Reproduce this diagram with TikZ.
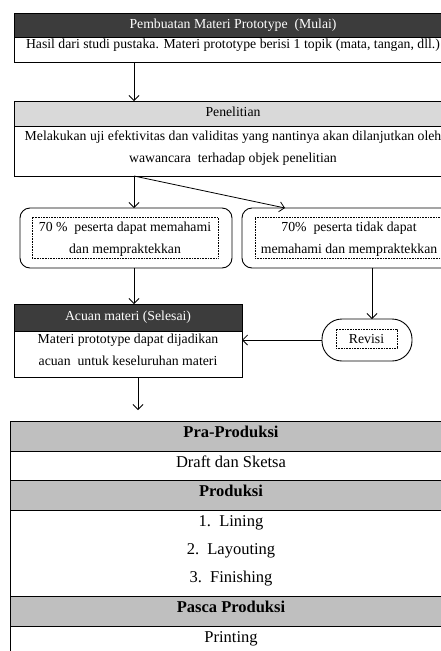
\documentclass[tikz,border=0pt]{standalone}
\usepackage{fontspec}
\setmainfont{Liberation Serif}
\usetikzlibrary{positioning,arrows.meta}
\definecolor{hdrdark}{HTML}{3C3C3C}
\definecolor{hdrlight}{HTML}{D9D9D9}
\definecolor{rowgray}{HTML}{BFBFBF}

\begin{document}
\begin{tikzpicture}[x=1pt,y=-1pt,
  every node/.style={inner sep=0pt,outer sep=0pt},
  box/.style={draw,line width=0.9pt,align=center,font=\fontsize{13.75}{22}\selectfont},
  darkhead/.style={box,fill=hdrdark,text=white,text height=9.5pt,text depth=3pt},
  lighthead/.style={box,fill=hdrlight,text height=9.5pt,text depth=3pt},
  choice/.style={draw,line width=0.9pt,rounded corners=10pt},
  dotbox/.style={draw,line width=0.6pt,dash pattern=on 0.8pt off 0.8pt,align=center,
    font=\fontsize{13.75}{22}\selectfont},
  cell/.style={draw,line width=0.9pt,minimum width=442pt,align=center,
    font=\fontsize{16.5}{28}\selectfont,text height=16pt},
  graycell/.style={cell,fill=rowgray,font=\fontsize{16.5}{28}\selectfont\bfseries},
  arr/.style={-{Straight Barb[length=5pt,width=10pt]},line width=0.8pt}]

  \clip (0,0) rectangle (441,651);

  % flow part
  \node[darkhead,minimum width=438pt,minimum height=24pt] (mulaiH) at (233,25) {Pembuatan Materi Prototype\ \ (Mulai)};
  \node[box,minimum width=438pt,minimum height=25pt,text height=11pt,text depth=14pt,below=0pt of mulaiH] (mulai)
    {Hasil dari studi pustaka. Materi prototype berisi 1 topik (mata, tangan, dll.)};

  \node[lighthead,minimum width=438pt,minimum height=25pt] (penH) at (233,113.5) {Penelitian};
  \node[box,minimum width=438pt,minimum height=50pt,text height=36pt,text depth=14pt,below=0pt of penH] (pen)
    {Melakukan uji efektivitas dan validitas yang nantinya akan dilanjutkan oleh\\wawancara\ \ terhadap objek penelitian};

  \node[choice,minimum width=212pt,minimum height=60pt] (paham) at (126,238) {};
  \node[dotbox,minimum width=186pt,minimum height=41pt,text height=36pt,text depth=5pt] (pahamT) at (125,237.5)
    {70 \%\ \ peserta dapat memahami\\dan mempraktekkan};
  \node[choice,minimum width=214pt,minimum height=60pt] (tidak) at (349,238) {};
  \node[dotbox,minimum width=188pt,minimum height=41pt,text height=36pt,text depth=5pt] (tidakT) at (349,237.5)
    {70\%\ \ peserta tidak dapat\\memahami dan mempraktekkan};

  \node[darkhead,minimum width=228pt,minimum height=27pt] (acuanH) at (128,317.5) {Acuan materi (Selesai)};
  \node[box,minimum width=228pt,minimum height=46pt,text height=34pt,text depth=12pt,below=0pt of acuanH] (acuan)
    {Materi prototype dapat dijadikan\\acuan\ \ untuk keseluruhan materi};

  \node[choice,rounded corners=20pt,minimum width=90pt,minimum height=42pt] (revisi) at (367,340) {};
  \node[dotbox,minimum width=61pt,minimum height=19pt,text height=14pt,text depth=5pt] (revisiT) at (366.5,338.5) {Revisi};

  % production table
  \node[graycell,minimum height=30pt,text depth=14pt] (praH) at (231,436) {Pra-Produksi};
  \node[cell,minimum height=29pt,text depth=13pt,below=0pt of praH] (draft) {Draft dan Sketsa};
  \node[graycell,minimum height=30pt,text depth=14pt,below=0pt of draft] (prodH) {Produksi};
  \node[cell,minimum height=86pt,text height=72pt,text depth=14pt,below=0pt of prodH] (prod)
    {1.\ \ Lining\\2.\ \ Layouting\\3.\ \ Finishing};
  \node[graycell,minimum height=30pt,text depth=14pt,below=0pt of prod] (pascaH) {Pasca Produksi};
  \node[cell,minimum height=30pt,text depth=14pt,below=0pt of pascaH] (print) {Printing};

  % connectors
  \coordinate (xa) at (134,0);
  \coordinate (xb) at (285,0);
  \coordinate (xc) at (372,0);
  \coordinate (xd) at (138,0);
  \draw[arr] (mulai.south -| xa) -- (penH.north -| xa);
  \draw[arr] (pen.south -| xa) -- (paham.north -| xa);
  \draw[arr] (pen.south -| xa) -- (tidak.north -| xb);
  \draw[arr] (paham.south -| xa) -- (acuanH.north -| xa);
  \draw[arr] (tidak.south -| xc) -- (revisi.north -| xc);
  \draw[arr] (revisi.west) -- (acuan.east |- revisi.west);
  \draw[arr,shorten >=11pt] (acuan.south -| xd) -- (praH.north -| xd);
\end{tikzpicture}
\end{document}
